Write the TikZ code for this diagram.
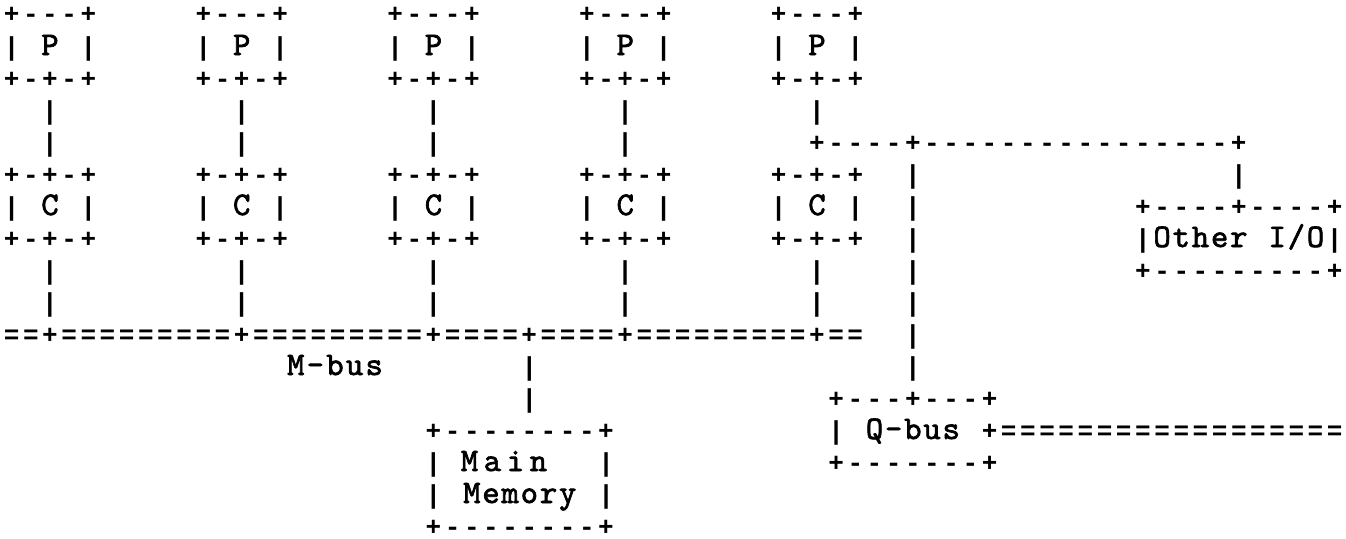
\documentclass[tikz,border=0pt]{standalone}
\usepackage{fontspec}
\newfontfamily\ascfont{Liberation Mono}
\newfontfamily\lettfont{lmmono10-regular}[Extension=.otf,FakeBold=2]
\newcommand\lnfont{\ascfont\bfseries\fontsize{26}{32}\selectfont}
\newcommand\ltfont{\lettfont\fontsize{33}{32}\selectfont}
\ExplSyntaxOn
\dim_new:N \l_asc_cw_dim
\dim_set:Nn \l_asc_cw_dim {19.175pt}
\cs_new_protected:Npn \asciirow #1
  { \tl_map_inline:nn {#1} { \asc_cell:n {##1} } }
\cs_new_protected:Npn \asciirowW #1#2
  { \dim_set:Nn \l_asc_cw_dim {#1} \asciirow {#2} }
% a label: every character in the letter font
\cs_new_protected:Npn \asciilabel #1#2
  {
    \dim_set:Nn \l_asc_cw_dim {#1}
    \tl_map_inline:nn {#2}
      { \hbox_to_wd:nn { \l_asc_cw_dim } { \hss \ltfont ##1 \hss } }
  }
\cs_new_protected:Npn \asc_cell:n #1
  {
    \tl_if_eq:nnTF {#1} {.}
      { \hbox_to_wd:nn { \l_asc_cw_dim } { } }
      {
        \tl_if_in:nnTF { +-|= } {#1}
          { \hbox_to_wd:nn { \l_asc_cw_dim } { \hfil \lnfont #1 \hfil } }
          { \hbox_to_wd:nn { \l_asc_cw_dim } { \hss \ltfont #1 \hss } }
      }
  }
\ExplSyntaxOff
\tikzset{asc/.style={inner sep=0pt, outer sep=0pt, anchor=base west, text=black}}
% #1 name, #2 column, #3 row, #4 characters ('.' = blank)
\newcommand\arow[4]{\node[asc] (#1) at ({2.06+19.175*(#2)}, {23+32*(#3)}) {\asciirow{#4}};}
\begin{document}
\begin{tikzpicture}[x=1pt,y=-1pt]
\useasboundingbox (0,0) rectangle (1346,538);
\fill[white] (0,0) rectangle (1346,538);
% processors and caches
\foreach \k in {0,...,4}{
  \arow{p\k-0}{10*\k}{0}{+---+}
  \arow{p\k-1}{10*\k}{1}{|.P.|}
  \arow{p\k-2}{10*\k}{2}{+-+-+}
  \arow{p\k-3}{10*\k+2}{3}{|}
  \arow{c\k-0}{10*\k}{5}{+-+-+}
  \arow{c\k-1}{10*\k}{6}{|.C.|}
  \arow{c\k-2}{10*\k}{7}{+-+-+}
  \arow{c\k-3}{10*\k+2}{8}{|}
  \arow{c\k-4}{10*\k+2}{9}{|}
}
\foreach \k in {0,...,3}{
  \arow{p\k-4}{10*\k+2}{4}{|}
}
% I/O branch from the fifth processor
\arow{io-h}{42}{4}{+----+----------------+}
\foreach \r in {5,...,11}{
  \arow{qv\r}{47}{\r}{|}
}
\arow{iov}{64}{5}{|}
\arow{io-0}{59}{6}{+----+----+}
\arow{io-1}{59}{7}{|Other.I/O|}
\arow{io-2}{59}{8}{+---------+}
% M-bus
\arow{mbus}{0}{10}{==+=========+=========+====+====+=========+==}
\node[asc] (mbuslabel) at (286, {23+32*11}) {\asciilabel{19.6pt}{M-bus}};
\arow{mv1}{27}{11}{|}
\arow{mv2}{27}{12}{|}
% main memory
\arow{mm-0}{22}{13}{+--------+}
\arow{mm-1}{22}{14}{|........|}
\node[asc] (mainlabel) at (458, {23+32*14}) {\asciilabel{23pt}{Main}};
\arow{mm-2}{22}{15}{|.Memory.|}
\arow{mm-3}{22}{16}{+--------+}
% Q-bus
\arow{qb-0}{43}{12}{+---+---+}
\arow{qb-1}{43}{13}{|.......+==================}
\node[asc] (qbuslabel) at ({2.06+19.175*45}, {23+32*13}) {\asciilabel{19.175pt}{Q-bus}};
\arow{qb-2}{43}{14}{+-------+}
\end{tikzpicture}
\end{document}
